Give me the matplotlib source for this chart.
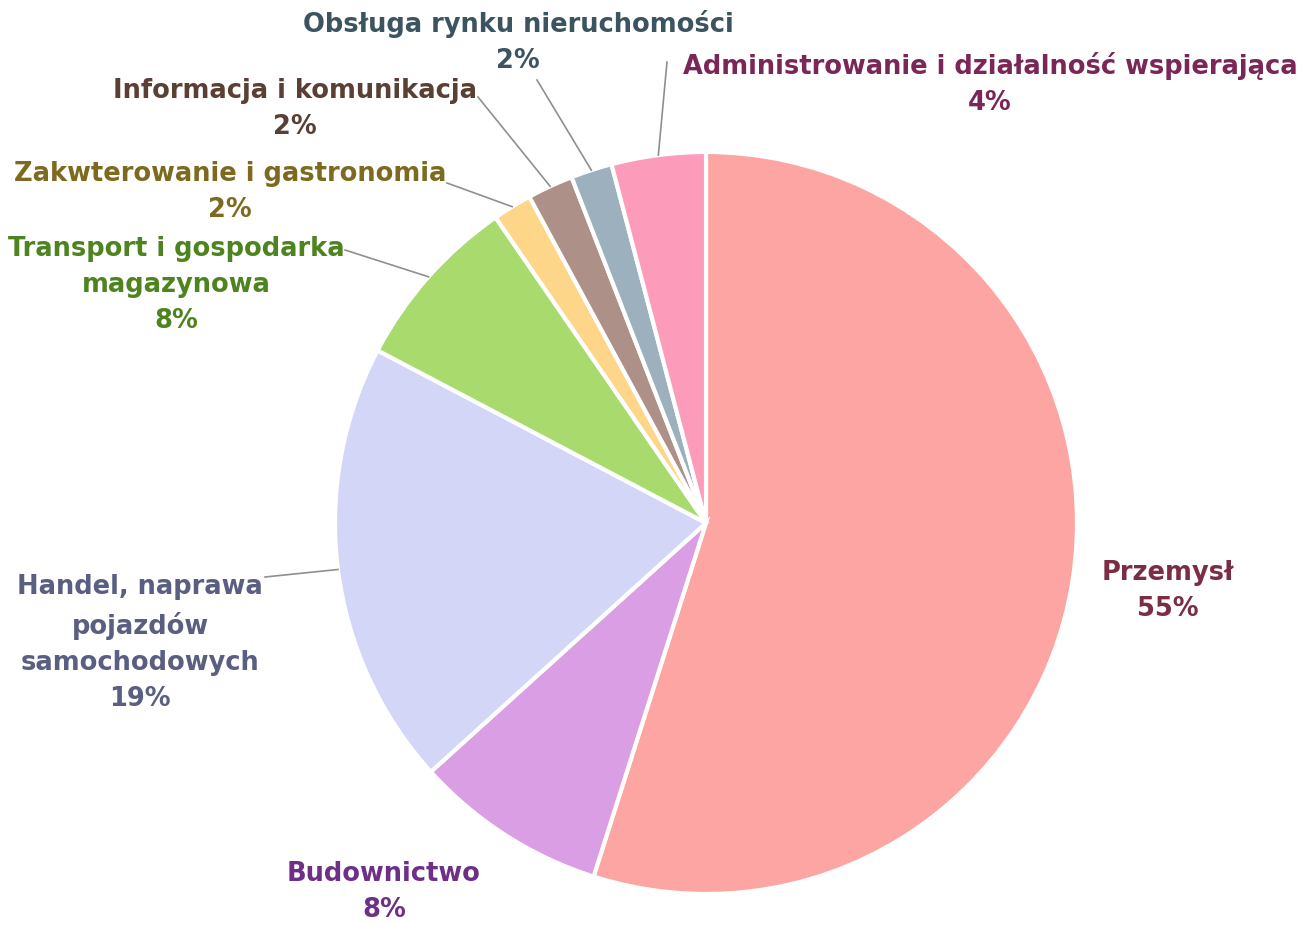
import numpy as np
import matplotlib
matplotlib.use("Agg")
import matplotlib.pyplot as plt

# sectors, clockwise from 12 o'clock
sectors = [
    "Przemysł",
    "Budownictwo",
    "Handel, naprawa\npojazdów\nsamochodowych",
    "Transport i gospodarka\nmagazynowa",
    "Zakwterowanie i gastronomia",
    "Informacja i komunikacja",
    "Obsługa rynku nieruchomości",
    "Administrowanie i działalność wspierająca",
]
shares = [54.9, 8.4, 19.4, 7.7, 1.7, 2.0, 1.8, 4.1]
wedge_colors = ["#fca5a3", "#d99ee3", "#d4d6f7", "#a8da6e",
                "#fdd68a", "#ad9087", "#9cb0bd", "#fd9bbb"]
text_colors = ["#7b2d43", "#6e2f87", "#5a5e80", "#4e8420",
               "#7d6a1f", "#5a3f34", "#3c5460", "#7a2657"]

# label centres (pixels, y down) and leader-line label end (None = no line)
label_pos = [(1168, 591), (384, 892), (140, 643), (176, 285),
             (230, 192), (295, 109), (518, 42), (990, 84)]
leader_end = [None, None, (265, 577), (345, 250),
              (447, 183), (478, 97), (537, 80), (667, 62)]

W, H = 1307, 925
cx, cy, r = 706, 523, 371

fig = plt.figure(figsize=(W / 100, H / 100), dpi=100)
ax = fig.add_axes([0, 0, 1, 1])

wedges, _ = ax.pie(shares, colors=wedge_colors, startangle=90, counterclock=False,
                   center=(cx, H - cy), radius=r, frame=True,
                   wedgeprops=dict(edgecolor="white", linewidth=3))
ax.set_xlim(0, W)
ax.set_ylim(0, H)
ax.set_aspect("equal")
ax.axis("off")

for i, (name, val) in enumerate(zip(sectors, shares)):
    lx, ly = label_pos[i]
    ax.text(lx, H - ly, f"{name}\n{round(val):d}%", ha="center", va="center",
            color=text_colors[i], fontsize=18.5, fontweight="bold",
            family="DejaVu Sans", linespacing=1.5)
    if leader_end[i] is not None:
        w = wedges[i]
        mid = np.deg2rad((w.theta1 + w.theta2) / 2)
        px = cx + r * np.cos(mid)
        py = (H - cy) + r * np.sin(mid)
        ex, ey = leader_end[i]
        ax.plot([px, ex], [py, H - ey], color="#8f8f8f", lw=1.2)

fig.savefig("out.png", dpi=100)
